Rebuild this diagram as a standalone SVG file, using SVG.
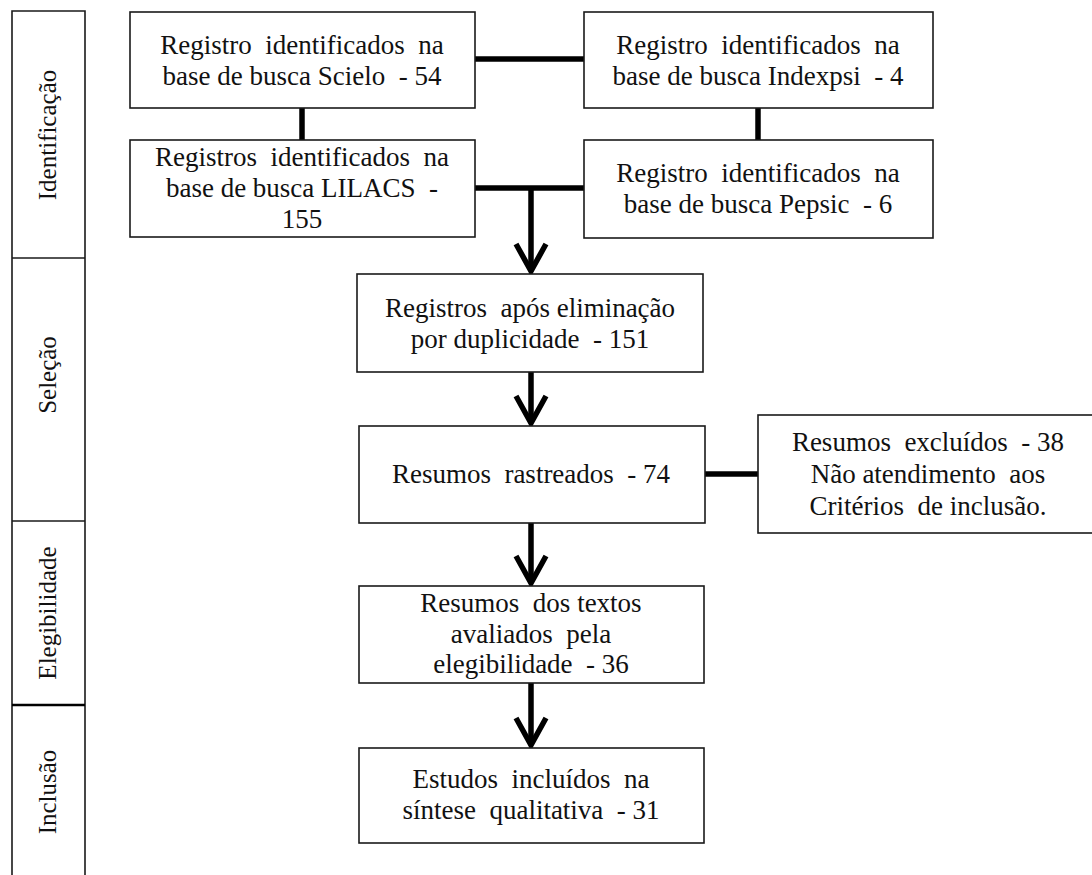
<svg xmlns="http://www.w3.org/2000/svg" width="1092" height="875" viewBox="0 0 1092 875">
<style>
.box{fill:#fff;stroke:#1a1a1a;stroke-width:1.6}
.t{font-family:'Liberation Serif',serif;font-size:27px;fill:#111;text-anchor:middle}
.side{font-family:'Liberation Serif',serif;font-size:25px;fill:#111;text-anchor:middle}
.ln{stroke:#000;stroke-width:5.5;fill:none}
.sb{stroke:#1a1a1a;stroke-width:1.6;fill:none}
</style>
<defs>
<marker id="chev" markerUnits="userSpaceOnUse" markerWidth="44" markerHeight="44" refX="32" refY="22" orient="auto" viewBox="0 0 44 44">
<path d="M5,7 L32,22 L5,37" fill="none" stroke="#000" stroke-width="5.5" stroke-linejoin="miter"/>
</marker>
</defs>
<rect width="1092" height="875" fill="#fff"/>

<g id="sidebar">
<path class="sb" d="M12,875 V11 H85 V875"/>
<line class="sb" x1="12" y1="258" x2="85" y2="258"/>
<line class="sb" x1="12" y1="521" x2="85" y2="521"/>
<line x1="12" y1="705" x2="85" y2="705" stroke="#000" stroke-width="2.6"/>
<text class="side" transform="translate(56,135) rotate(-90)">Identificação</text>
<text class="side" transform="translate(56,375) rotate(-90)">Seleção</text>
<text class="side" transform="translate(56,613) rotate(-90)">Elegibilidade</text>
<text class="side" transform="translate(56,792) rotate(-90)">Inclusão</text>
</g>

<g id="connectors">
<line class="ln" x1="475" y1="59" x2="584" y2="59"/>
<line class="ln" x1="302" y1="108" x2="302" y2="140"/>
<line class="ln" x1="758" y1="108" x2="758" y2="140"/>
<line class="ln" x1="475" y1="188" x2="584" y2="188"/>
<line class="ln" x1="705" y1="474" x2="758" y2="474"/>
<line class="ln" x1="531" y1="188" x2="531" y2="271" marker-end="url(#chev)"/>
<line class="ln" x1="531" y1="372" x2="531" y2="423" marker-end="url(#chev)"/>
<line class="ln" x1="531" y1="523" x2="531" y2="583" marker-end="url(#chev)"/>
<line class="ln" x1="531" y1="683" x2="531" y2="745" marker-end="url(#chev)"/>
</g>

<g id="scielo">
<rect class="box" x="130" y="12" width="345" height="96"/>
<text class="t" x="302" y="54" xml:space="preserve">Registro  identificados  na</text>
<text class="t" x="302" y="85" xml:space="preserve">base de busca Scielo  - 54</text>
</g>

<g id="indexpsi">
<rect class="box" x="584" y="12" width="349" height="96"/>
<text class="t" x="758" y="54" xml:space="preserve">Registro  identificados  na</text>
<text class="t" x="758" y="85" xml:space="preserve">base de busca Indexpsi  - 4</text>
</g>

<g id="lilacs">
<rect class="box" x="130" y="140" width="345" height="97"/>
<text class="t" x="302" y="166" xml:space="preserve">Registros  identificados  na</text>
<text class="t" x="302" y="197" xml:space="preserve">base de busca LILACS  -</text>
<text class="t" x="302" y="228">155</text>
</g>

<g id="pepsic">
<rect class="box" x="584" y="140" width="349" height="98"/>
<text class="t" x="758" y="182" xml:space="preserve">Registro  identificados  na</text>
<text class="t" x="758" y="213" xml:space="preserve">base de busca Pepsic  - 6</text>
</g>

<g id="duplicidade">
<rect class="box" x="357" y="274" width="346" height="98"/>
<text class="t" x="530" y="317" xml:space="preserve">Registros  após eliminação</text>
<text class="t" x="530" y="348" xml:space="preserve">por duplicidade  - 151</text>
</g>

<g id="rastreados">
<rect class="box" x="359" y="426" width="346" height="97"/>
<text class="t" x="531" y="483" xml:space="preserve">Resumos  rastreados  - 74</text>
</g>

<g id="excluidos">
<rect class="box" x="758" y="415" width="340" height="118"/>
<text class="t" x="928" y="451" xml:space="preserve">Resumos  excluídos  - 38</text>
<text class="t" x="928" y="483" xml:space="preserve">Não atendimento  aos</text>
<text class="t" x="928" y="515" xml:space="preserve">Critérios  de inclusão.</text>
</g>

<g id="elegibilidade">
<rect class="box" x="359" y="586" width="345" height="97"/>
<text class="t" x="531" y="612" xml:space="preserve">Resumos  dos textos</text>
<text class="t" x="531" y="643" xml:space="preserve">avaliados  pela</text>
<text class="t" x="531" y="673" xml:space="preserve">elegibilidade  - 36</text>
</g>

<g id="inclusao">
<rect class="box" x="359" y="748" width="345" height="95"/>
<text class="t" x="531" y="788" xml:space="preserve">Estudos  incluídos  na</text>
<text class="t" x="531" y="819" xml:space="preserve">síntese  qualitativa  - 31</text>
</g>
</svg>
